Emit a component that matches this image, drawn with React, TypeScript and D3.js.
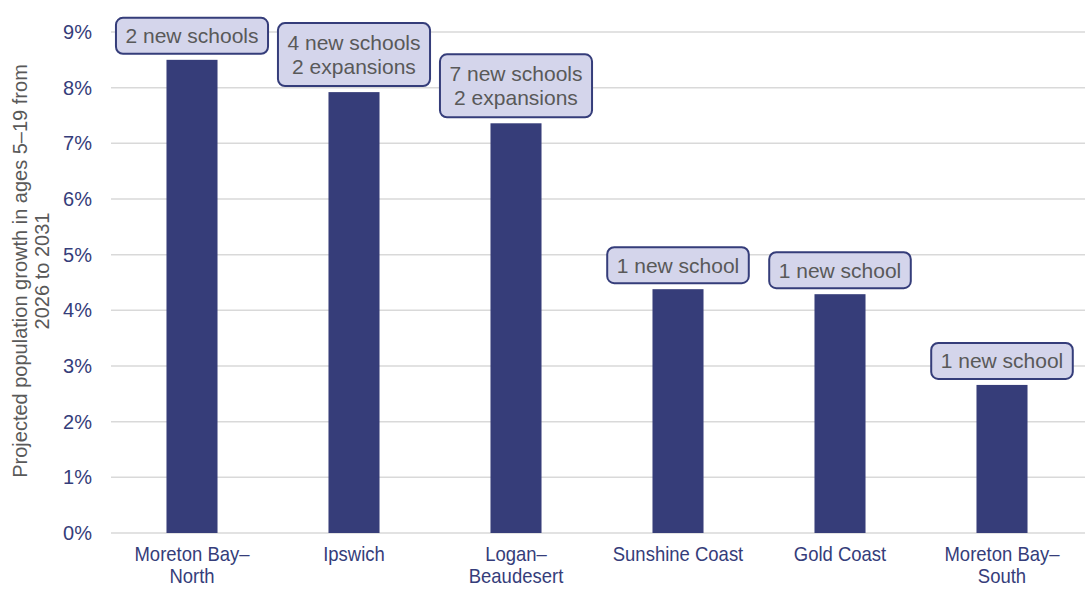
import React from "react";
import * as d3 from "d3";

const categories: string[][] = [
  ["Moreton Bay–", "North"],
  ["Ipswich"],
  ["Logan–", "Beaudesert"],
  ["Sunshine Coast"],
  ["Gold Coast"],
  ["Moreton Bay–", "South"],
];
const growth: number[] = [8.5, 7.92, 7.36, 4.38, 4.29, 2.66];
const callouts: string[][] = [
  ["2 new schools"],
  ["4 new schools", "2 expansions"],
  ["7 new schools", "2 expansions"],
  ["1 new school"],
  ["1 new school"],
  ["1 new school"],
];
const yTicks: number[] = [0, 1, 2, 3, 4, 5, 6, 7, 8, 9];
const yTitle: string[] = ["Projected population growth in ages 5–19 from", "2026 to 2031"];

const W = 1092;
const H = 597;
const margin = { left: 111, right: 9, top: 32, bottom: 64 };
const BAR = "#363d79";
const AXIS_TXT = "#353d7a";
const GREY_TXT = "#595959";
const FONT = "'Liberation Sans', Arial, sans-serif";

function measure(text: string, font: string): number {
  if (typeof document === "undefined") return text.length * 11;
  const c = document.createElement("canvas");
  const ctx = c.getContext("2d");
  if (!ctx) return text.length * 11;
  ctx.font = font;
  return ctx.measureText(text).width;
}

export default function App() {
  const x = d3
    .scaleBand<number>()
    .domain(d3.range(categories.length))
    .range([margin.left, W - margin.right])
    .paddingInner(0.685)
    .paddingOuter(0.3425);
  const y = d3.scaleLinear().domain([0, 9]).range([H - margin.bottom, margin.top]);

  const labelFont = `21px ${FONT}`;
  const lineH = 24;

  return (
    <svg width={W} height={H} style={{ position: "absolute", left: 0, top: 0, background: "#fff" }}>
      {yTicks.map((t) => (
        <g key={t}>
          <line x1={margin.left} x2={W - 7} y1={y(t)} y2={y(t)} stroke="#d9d9d9" strokeWidth={1.5} />
          <text x={92} y={y(t)} dy="0.35em" textAnchor="end" fill={AXIS_TXT} fontFamily={FONT} fontSize={20}>
            {t}%
          </text>
        </g>
      ))}
      <g transform={`translate(0, 271) rotate(-90)`}>
        {yTitle.map((l, i) => (
          <text key={i} x={0} y={27 + i * 22} textAnchor="middle" fill={GREY_TXT} fontFamily={FONT} fontSize={20}>
            {l}
          </text>
        ))}
      </g>
      {growth.map((v, i) => (
        <rect key={i} x={x(i)!} y={y(v)} width={x.bandwidth()} height={y(0) - y(v)} fill={BAR} />
      ))}
      {categories.map((lines, i) => {
        const cx = x(i)! + x.bandwidth() / 2;
        return (
          <g key={i} transform={`translate(${cx},0) scale(0.925,1)`}>
            <text textAnchor="middle" fill={AXIS_TXT} fontFamily={FONT} fontSize={20}>
              {lines.map((l, j) => (
                <tspan key={j} x={0} y={561 + j * 22}>
                  {l}
                </tspan>
              ))}
            </text>
          </g>
        );
      })}
      {callouts.map((lines, i) => {
        const cx = x(i)! + x.bandwidth() / 2;
        const tw = Math.max(...lines.map((l) => measure(l, labelFont)));
        const bw = tw + 19;
        const bh = lines.length === 1 ? 36 : 63;
        const bottom = y(growth[i]) - 6;
        const top = bottom - bh;
        return (
          <g key={i}>
            <rect
              x={cx - bw / 2}
              y={top}
              width={bw}
              height={bh}
              rx={7}
              fill="#d4d5eb"
              stroke={AXIS_TXT}
              strokeWidth={2}
            />
            {lines.map((l, j) => (
              <text
                key={j}
                x={cx}
                y={top + bh / 2 + (j - (lines.length - 1) / 2) * lineH}
                dy="0.35em"
                textAnchor="middle"
                fill={GREY_TXT}
                fontFamily={FONT}
                fontSize={21}
              >
                {l}
              </text>
            ))}
          </g>
        );
      })}
    </svg>
  );
}
